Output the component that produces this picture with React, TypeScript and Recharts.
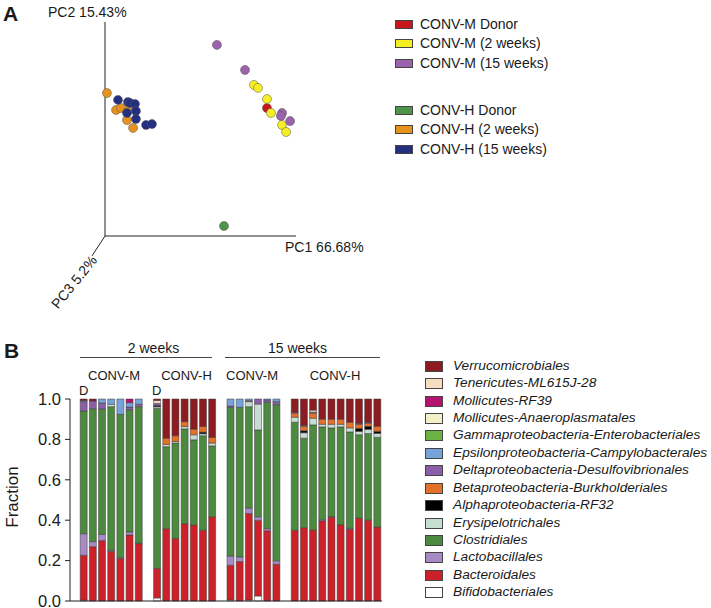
import React from 'react';
import { ScatterChart, Scatter, BarChart, Bar, XAxis, YAxis, ReferenceLine } from 'recharts';

// PCA scores (axis units, 0-100 along the drawn PC1 / PC2 axes)
const convMDonor = [{ x: 84.8, y: 59.8 }];
const convM2wk = [
  { x: 78.0, y: 70.6 }, { x: 80.1, y: 69.2 }, { x: 84.8, y: 64.0 },
  { x: 86.9, y: 57.5 }, { x: 92.7, y: 51.9 }, { x: 94.8, y: 48.6 },
];
const convM15wk = [
  { x: 58.6, y: 89.3 }, { x: 73.3, y: 77.6 }, { x: 92.7, y: 57.5 },
  { x: 92.1, y: 56.1 }, { x: 96.9, y: 53.7 },
];
const convHDonor = [{ x: 62.3, y: 4.7 }];
const convH2wk = [
  { x: 1.0, y: 66.8 }, { x: 5.8, y: 58.9 }, { x: 8.4, y: 59.8 },
  { x: 12.0, y: 58.4 }, { x: 11.5, y: 54.2 }, { x: 14.7, y: 50.5 },
];
const convH15wk = [
  { x: 6.8, y: 63.6 }, { x: 12.0, y: 62.6 }, { x: 13.1, y: 62.1 },
  { x: 15.7, y: 61.7 }, { x: 11.5, y: 57.5 }, { x: 16.2, y: 58.4 },
  { x: 16.2, y: 54.7 }, { x: 21.5, y: 51.9 }, { x: 24.6, y: 52.3 },
];

const pcaGroups = [
  { name: 'CONV-M Donor', color: '#c8161d', data: convMDonor },
  { name: 'CONV-M (2 weeks)', color: '#f5ee22', data: convM2wk },
  { name: 'CONV-M (15 weeks)', color: '#9b62ad', data: convM15wk },
  { name: 'CONV-H Donor', color: '#4e944a', data: convHDonor },
  { name: 'CONV-H (2 weeks)', color: '#e6921e', data: convH2wk },
  { name: 'CONV-H (15 weeks)', color: '#252f82', data: convH15wk },
];

// samples: CONV-M 2wk (7, first = donor), CONV-H 2wk (7, first = donor), CONV-M 15wk (6), CONV-H 15wk (10)
const groupSizes = [7, 7, 6, 10];

const bifido = [0.004, 0, 0, 0, 0, 0, 0, 0.015, 0, 0, 0, 0, 0, 0, 0.005, 0, 0.005, 0.025, 0, 0, 0, 0, 0, 0, 0, 0, 0, 0, 0, 0];
const bacteroidales = [0.222, 0.269, 0.299, 0.246, 0.21, 0.327, 0.284, 0.146, 0.358, 0.31, 0.383, 0.376, 0.35, 0.417, 0.172, 0.195, 0.428, 0.374, 0.348, 0.182, 0.35, 0.363, 0.351, 0.397, 0.415, 0.378, 0.355, 0.41, 0.4, 0.366];
const lacto = [0.107, 0.025, 0.031, 0.005, 0.005, 0.015, 0.003, 0, 0, 0, 0, 0, 0, 0, 0.046, 0.023, 0.027, 0.018, 0.01, 0.017, 0, 0, 0, 0.005, 0.003, 0, 0.005, 0, 0, 0];
const clostridiales = [0.608, 0.658, 0.621, 0.711, 0.709, 0.605, 0.675, 0.793, 0.406, 0.472, 0.469, 0.422, 0.468, 0.351, 0.736, 0.741, 0.502, 0.43, 0.626, 0.773, 0.535, 0.443, 0.521, 0.46, 0.439, 0.484, 0.477, 0.413, 0.429, 0.444];
const erysipelo = [0, 0, 0, 0.012, 0, 0, 0, 0.008, 0.011, 0.008, 0.012, 0.025, 0.01, 0.014, 0, 0, 0.025, 0.128, 0, 0, 0.025, 0.027, 0.033, 0.013, 0.018, 0.013, 0.02, 0.017, 0.021, 0.02];
const alphaRF32 = [0, 0, 0, 0, 0, 0, 0, 0.006, 0, 0, 0, 0, 0.008, 0, 0, 0, 0, 0, 0, 0, 0, 0.01, 0, 0, 0, 0, 0, 0.015, 0.015, 0.01];
const betaBurk = [0, 0, 0, 0, 0, 0, 0, 0, 0.031, 0.028, 0.024, 0.028, 0.028, 0.028, 0, 0, 0, 0, 0, 0, 0.02, 0.022, 0.025, 0.025, 0.025, 0.025, 0.028, 0.02, 0.015, 0.025];
const deltaDesulfo = [0.046, 0.038, 0.029, 0, 0, 0.013, 0.012, 0.01, 0, 0, 0, 0, 0, 0, 0.006, 0, 0.005, 0.025, 0.012, 0.015, 0.005, 0.005, 0.005, 0, 0, 0, 0, 0.005, 0.005, 0];
const epsilonCampy = [0.005, 0, 0.02, 0.026, 0.076, 0.022, 0.026, 0, 0, 0, 0, 0, 0, 0, 0.035, 0.041, 0.008, 0, 0.004, 0.013, 0, 0, 0, 0, 0, 0, 0, 0, 0, 0];
const gammaEntero = [0, 0, 0, 0, 0, 0, 0, 0, 0, 0, 0, 0, 0, 0, 0, 0, 0, 0, 0, 0, 0, 0, 0, 0, 0, 0, 0, 0, 0, 0];
const mollAnaero = [0, 0, 0, 0, 0, 0, 0, 0, 0, 0, 0, 0, 0, 0, 0, 0, 0, 0, 0, 0, 0, 0, 0, 0, 0, 0, 0, 0, 0, 0];
const mollRF39 = [0, 0, 0, 0, 0, 0.018, 0, 0, 0, 0, 0, 0, 0, 0, 0, 0, 0, 0, 0, 0, 0, 0, 0, 0, 0, 0, 0, 0, 0, 0];
const tenericutes = [0, 0, 0, 0, 0, 0, 0, 0.015, 0, 0, 0, 0, 0, 0, 0, 0, 0, 0, 0, 0, 0, 0, 0.01, 0, 0, 0, 0, 0, 0, 0];
const verruco = [0.008, 0.01, 0, 0, 0, 0, 0, 0.007, 0.194, 0.182, 0.112, 0.149, 0.136, 0.19, 0, 0, 0, 0, 0, 0, 0.065, 0.13, 0.055, 0.1, 0.1, 0.1, 0.115, 0.12, 0.115, 0.135];

// stacked bottom -> top
const taxa = [
  { key: 'bifido', name: 'Bifidobacteriales', color: '#ffffff', values: bifido },
  { key: 'bact', name: 'Bacteroidales', color: '#cd2129', values: bacteroidales },
  { key: 'lacto', name: 'Lactobacillales', color: '#a78ac4', values: lacto },
  { key: 'clos', name: 'Clostridiales', color: '#4b8a3f', values: clostridiales },
  { key: 'erys', name: 'Erysipelotrichales', color: '#c6ddd2', values: erysipelo },
  { key: 'alpha', name: 'Alphaproteobacteria-RF32', color: '#000000', values: alphaRF32 },
  { key: 'beta', name: 'Betaproteobacteria-Burkholderiales', color: '#e5702a', values: betaBurk },
  { key: 'delta', name: 'Deltaproteobacteria-Desulfovibrionales', color: '#8b5ea8', values: deltaDesulfo },
  { key: 'eps', name: 'Epsilonproteobacteria-Campylobacterales', color: '#76a3dc', values: epsilonCampy },
  { key: 'gamma', name: 'Gammaproteobacteria-Enterobacteriales', color: '#6ab344', values: gammaEntero },
  { key: 'anaero', name: 'Mollicutes-Anaeroplasmatales', color: '#f4f0c6', values: mollAnaero },
  { key: 'rf39', name: 'Mollicutes-RF39', color: '#b3126e', values: mollRF39 },
  { key: 'tener', name: 'Tenericutes-ML615J-28', color: '#f6dcc0', values: tenericutes },
  { key: 'verr', name: 'Verrucomicrobiales', color: '#8c1c1f', values: verruco },
];

const fractionTicks = [0, 0.2, 0.4, 0.6, 0.8, 1.0];

// build rows: a leading empty slot, then samples with an empty slot between groups
const barData: any[] = [{ id: 'lead' }];
let idx = 0;
groupSizes.forEach((n, g) => {
  if (g > 0) barData.push({ id: 'gap' + g });
  for (let i = 0; i < n; i++) {
    const row: any = { id: 's' + idx };
    taxa.forEach((t) => { row[t.key] = t.values[idx]; });
    barData.push(row);
    idx++;
  }
});

const FONT = '"Liberation Sans", Arial, Helvetica, sans-serif';

const Txt = ({ x, y, children, size = 14, anchor = 'start', style = {} }: any) => {
  const tx = anchor === 'middle' ? '-50%' : anchor === 'end' ? '-100%' : '0';
  return (
    <div
      style={{
        position: 'absolute', left: x, top: y, fontSize: size, lineHeight: 1,
        whiteSpace: 'nowrap', color: '#1a1a1a', transform: `translate(${tx}, -50%)`, ...style,
      }}
    >
      {children}
    </div>
  );
};

const HLine = ({ x1, x2, y }: any) => (
  <div style={{ position: 'absolute', left: x1, top: y, width: x2 - x1, height: 1, background: '#444' }} />
);

const pcaLegendY = [24, 43.3, 62.7, 110, 129.3, 148.7];

export default function App() {
  return (
    <div style={{ position: 'absolute', left: 0, top: 0, width: 711, height: 608, background: '#fff', fontFamily: FONT, overflow: 'hidden' }}>
      {/* Panel A */}
      <div style={{ position: 'absolute', left: 0, top: 0 }}>
        <ScatterChart width={320} height={260} margin={{ top: 22, right: 24, bottom: 24, left: 105 }}>
          <XAxis type="number" dataKey="x" domain={[0, 100]} hide />
          <YAxis type="number" dataKey="y" domain={[0, 100]} hide />
          <ReferenceLine y={0} stroke="#222" ifOverflow="visible" />
          <ReferenceLine x={0} stroke="#222" ifOverflow="visible" />
          <ReferenceLine segment={[{ x: 0, y: 0 }, { x: -6.8, y: -9.3 }]} stroke="#222" ifOverflow="visible" />
          {pcaGroups.map((g) => (
            <Scatter key={g.name} name={g.name} data={g.data} fill={g.color} stroke="#555" strokeWidth={0.5} isAnimationActive={false} />
          ))}
        </ScatterChart>
      </div>
      <Txt x={3} y={13} size={21} style={{ fontWeight: 'bold' }}>A</Txt>
      <Txt x={48} y={12}>PC2 15.43%</Txt>
      <Txt x={285} y={247}>PC1 66.68%</Txt>
      <Txt x={74} y={282} style={{ transform: 'translate(-50%, -50%) rotate(-51deg)' }}>PC3 5.2%</Txt>

      {pcaGroups.map((g, i) => (
        <React.Fragment key={g.name}>
          <div style={{ position: 'absolute', left: 395, top: pcaLegendY[i] - 4, width: 16, height: 7, background: g.color, border: '0.5px solid #444' }} />
          <Txt x={420} y={pcaLegendY[i]}>{g.name}</Txt>
        </React.Fragment>
      ))}

      {/* Panel B */}
      <Txt x={4} y={350} size={21} style={{ fontWeight: 'bold' }}>B</Txt>
      <Txt x={153.5} y={348} anchor="middle">2 weeks</Txt>
      <Txt x={297.5} y={348} anchor="middle">15 weeks</Txt>
      <HLine x1={80} x2={212} y={357} />
      <HLine x1={225} x2={380} y={357} />
      <Txt x={114} y={375} size={13} anchor="middle">CONV-M</Txt>
      <Txt x={186.5} y={375} size={13} anchor="middle">CONV-H</Txt>
      <Txt x={252} y={375} size={13} anchor="middle">CONV-M</Txt>
      <Txt x={335} y={375} size={13} anchor="middle">CONV-H</Txt>
      <Txt x={79} y={390} size={13}>D</Txt>
      <Txt x={152} y={390} size={13}>D</Txt>
      <Txt x={12} y={497} size={17} style={{ transform: 'translate(-50%, -50%) rotate(-90deg)' }}>Fraction</Txt>

      <div style={{ position: 'absolute', left: 0, top: 380 }}>
        <BarChart width={400} height={228} data={barData} margin={{ top: 19, right: 18, bottom: 7, left: 30 }} barSize={7}>
          <XAxis dataKey="id" hide />
          <YAxis
            type="number"
            domain={[0, 1]}
            ticks={fractionTicks}
            interval={0}
            tickFormatter={(v: number) => v.toFixed(1)}
            width={40}
            tickSize={5}
            tickMargin={4}
            stroke="#222"
            tick={{ fontSize: 16.5, fill: '#1a1a1a', fontFamily: FONT }}
          />
          <ReferenceLine y={0} stroke="#222" ifOverflow="visible" />
          {taxa.map((t) => (
            <Bar key={t.key} dataKey={t.key} stackId="a" fill={t.color} stroke="#3a3a3a" strokeWidth={0.5} isAnimationActive={false} />
          ))}
        </BarChart>
      </div>

      {taxa.slice().reverse().map((t, i) => {
        const cy = 365.7 + i * 17.43;
        return (
          <React.Fragment key={t.key}>
            <div style={{ position: 'absolute', left: 425, top: cy - 5, width: 16, height: 9, background: t.color, border: '0.5px solid #444' }} />
            <Txt x={453} y={cy} size={13.7} style={{ fontStyle: 'italic' }}>{t.name}</Txt>
          </React.Fragment>
        );
      })}
    </div>
  );
}
